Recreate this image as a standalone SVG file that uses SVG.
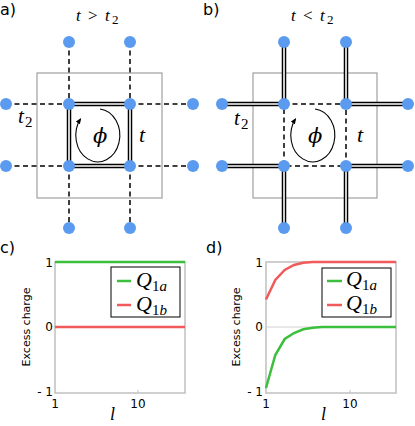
<svg xmlns="http://www.w3.org/2000/svg" width="415" height="426" viewBox="0 0 415 426">
<defs>
<style>
.box{fill:none;stroke:#a0a0a0;stroke-width:1.2}
.dash{fill:none;stroke:#000;stroke-width:1.5;stroke-dasharray:5,3.5}
.dbo{fill:none;stroke:#000;stroke-width:4.5}
.dbi{fill:none;stroke:#fff;stroke-width:1.6}
.dot{fill:#5b9bef}
.m{font-family:"Liberation Serif",serif;font-style:italic;fill:#000}
.n{font-family:"Liberation Serif",serif;fill:#000}
.phi{font-family:"DejaVu Serif",serif;font-style:italic;font-size:21px;fill:#000}
.lab{font-family:"DejaVu Sans",sans-serif;font-size:16px;fill:#000}
.tk{font-family:"DejaVu Sans",sans-serif;font-size:12px;fill:#000}
.yl{font-family:"DejaVu Sans",sans-serif;font-size:11px;fill:#000}
.frame{fill:none;stroke:#c0c0c0;stroke-width:1.5}
.grn{fill:none;stroke:#3cbf3c;stroke-width:2.5}
.red{fill:none;stroke:#f05a5a;stroke-width:2.5}
.arc{fill:none;stroke:#000;stroke-width:1.1}
</style>
<marker id="ah" viewBox="0 0 10 10" refX="8" refY="5" markerWidth="6" markerHeight="6" orient="auto" markerUnits="userSpaceOnUse">
<path d="M0,1 L10,5 L0,9 z" fill="#000"/>
</marker>
</defs>
<rect width="415" height="426" fill="#fff"/>

<!-- labels -->
<text class="lab" x="0" y="15">a)</text>
<text class="lab" x="203" y="15">b)</text>
<text class="lab" x="0" y="253">c)</text>
<text class="lab" x="206" y="253">d)</text>

<!-- Panel a -->
<g id="panel-a">
<rect class="box" x="37" y="73" width="125" height="125"/>
<g id="connectors-a">
<path class="dash" d="M69,42V104 M130,42V104 M69,166V228 M130,166V228 M6,104H69 M130,104H193 M6,166H69 M130,166H193"/>
<path class="dbo" d="M69,104H130V166H69Z"/>
<path class="dbi" d="M69,104H130V166H69Z"/>
<path class="arc" d="M100,109 A22 26.5 0 1 1 80.5,119" marker-end="url(#ah)"/>
</g>
<g id="nodes-a">
<circle class="dot" cx="69" cy="42" r="6"/><circle class="dot" cx="130" cy="42" r="6"/>
<circle class="dot" cx="6" cy="104" r="6"/><circle class="dot" cx="69" cy="104" r="6"/><circle class="dot" cx="130" cy="104" r="6"/><circle class="dot" cx="193" cy="104" r="6"/>
<circle class="dot" cx="6" cy="166" r="6"/><circle class="dot" cx="69" cy="166" r="6"/><circle class="dot" cx="130" cy="166" r="6"/><circle class="dot" cx="193" cy="166" r="6"/>
<circle class="dot" cx="69" cy="228" r="6"/><circle class="dot" cx="130" cy="228" r="6"/>
</g>
<text class="m" x="76" y="21" font-size="17">t</text>
<text class="n" x="88" y="21" font-size="17">&gt;</text>
<text class="m" x="105" y="21" font-size="17">t</text>
<text class="n" x="112" y="24" font-size="13">2</text>
<text class="m" x="18" y="123" font-size="21">t</text>
<text class="n" x="25" y="127" font-size="15">2</text>
<text class="m" x="139" y="142" font-size="22">t</text>
<text class="phi" x="93" y="143">ϕ</text>
</g>

<!-- Panel b -->
<g id="panel-b">
<rect class="box" x="253" y="73" width="124" height="125"/>
<g id="connectors-b">
<path class="dash" d="M284,104H346V166H284Z"/>
<path class="dbo" d="M284,42V104 M346,42V104 M284,166V228 M346,166V228 M222,104H284 M346,104H408 M222,166H284 M346,166H408"/>
<path class="dbi" d="M284,42V104 M346,42V104 M284,166V228 M346,166V228 M222,104H284 M346,104H408 M222,166H284 M346,166H408"/>
<path class="arc" d="M315,109 A22 26.5 0 1 1 295.5,119" marker-end="url(#ah)"/>
</g>
<g id="nodes-b">
<circle class="dot" cx="284" cy="42" r="6"/><circle class="dot" cx="346" cy="42" r="6"/>
<circle class="dot" cx="222" cy="104" r="6"/><circle class="dot" cx="284" cy="104" r="6"/><circle class="dot" cx="346" cy="104" r="6"/><circle class="dot" cx="408" cy="104" r="6"/>
<circle class="dot" cx="222" cy="166" r="6"/><circle class="dot" cx="284" cy="166" r="6"/><circle class="dot" cx="346" cy="166" r="6"/><circle class="dot" cx="408" cy="166" r="6"/>
<circle class="dot" cx="284" cy="228" r="6"/><circle class="dot" cx="346" cy="228" r="6"/>
</g>
<text class="m" x="291" y="21" font-size="17">t</text>
<text class="n" x="303" y="21" font-size="17">&lt;</text>
<text class="m" x="320" y="21" font-size="17">t</text>
<text class="n" x="327" y="24" font-size="13">2</text>
<text class="m" x="234" y="125" font-size="21">t</text>
<text class="n" x="241" y="129" font-size="15">2</text>
<text class="m" x="357" y="142" font-size="22">t</text>
<text class="phi" x="308" y="143">ϕ</text>
</g>

<!-- Panel c -->
<g id="panel-c">
<rect class="frame" x="55" y="262" width="130" height="131"/>
<line x1="138" y1="393" x2="138" y2="390" stroke="#c0c0c0" stroke-width="1"/>
<line class="grn" x1="55" y1="262" x2="185" y2="262"/>
<line class="red" x1="55" y1="327" x2="185" y2="327"/>
<text class="tk" x="53" y="267" text-anchor="end">1</text>
<text class="tk" x="53" y="331" text-anchor="end">0</text>
<text class="tk" x="53" y="396" text-anchor="end">- 1</text>
<text class="tk" x="55" y="408" text-anchor="middle">1</text>
<text class="tk" x="138" y="408" text-anchor="middle">10</text>
<text class="m" x="110" y="420" font-size="18">l</text>
<text class="yl" transform="translate(30,327) rotate(-90)" text-anchor="middle">Excess charge</text>
<rect x="111" y="267" width="69" height="50" fill="#fff" stroke="#000" stroke-width="1"/>
<line class="grn" x1="117" y1="281" x2="131" y2="281"/>
<line class="red" x1="117" y1="305" x2="131" y2="305"/>
<text class="m" x="136" y="287" font-size="22">Q</text>
<text class="m" x="152" y="291" font-size="15"><tspan font-style="normal">1</tspan>a</text>
<text class="m" x="136" y="311" font-size="22">Q</text>
<text class="m" x="152" y="315" font-size="15"><tspan font-style="normal">1</tspan>b</text>
</g>

<!-- Panel d -->
<g id="panel-d">
<rect class="frame" x="266" y="262" width="130" height="131"/>
<line x1="266" y1="327" x2="396" y2="327" stroke="#d0d0d0" stroke-width="1"/>
<line x1="350" y1="393" x2="350" y2="390" stroke="#c0c0c0" stroke-width="1"/>
<polyline class="red" points="266,299.5 275.3,280 284.7,270 294,265 303.3,262.7 312.7,262 396,262"/>
<polyline class="grn" points="266,388 275.3,355 284.7,339 294,333 303.3,329.3 312.7,327.7 322,327 396,327"/>
<text class="tk" x="263" y="267" text-anchor="end">1</text>
<text class="tk" x="263" y="331" text-anchor="end">0</text>
<text class="tk" x="263" y="396" text-anchor="end">- 1</text>
<text class="tk" x="266" y="408" text-anchor="middle">1</text>
<text class="tk" x="350" y="408" text-anchor="middle">10</text>
<text class="m" x="321" y="420" font-size="18">l</text>
<text class="yl" transform="translate(240,327) rotate(-90)" text-anchor="middle">Excess charge</text>
<rect x="322" y="268" width="69" height="49" fill="#fff" stroke="#000" stroke-width="1"/>
<line class="grn" x1="327" y1="281" x2="342" y2="281"/>
<line class="red" x1="327" y1="305" x2="342" y2="305"/>
<text class="m" x="346" y="286" font-size="22">Q</text>
<text class="m" x="362" y="290" font-size="15"><tspan font-style="normal">1</tspan>a</text>
<text class="m" x="346" y="310" font-size="22">Q</text>
<text class="m" x="362" y="314" font-size="15"><tspan font-style="normal">1</tspan>b</text>
</g>
</svg>
